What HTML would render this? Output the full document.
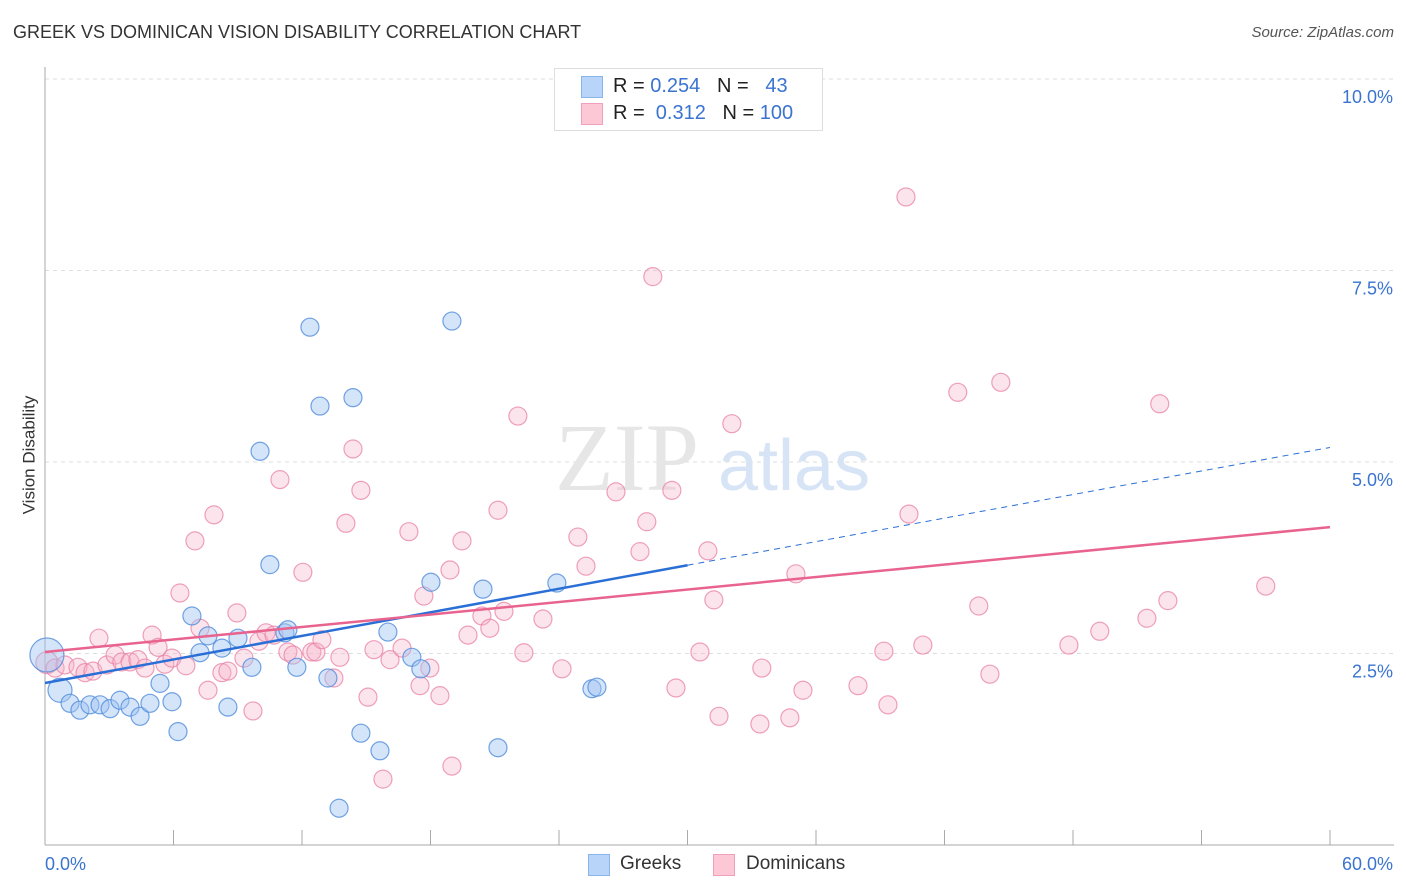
<!DOCTYPE html>
<html><head><meta charset="utf-8"><style>
body{margin:0;background:#fff;font-family:"Liberation Sans",sans-serif;}
#wrap{position:relative;width:1406px;height:892px;overflow:hidden;}
.t{position:absolute;white-space:nowrap;}
</style></head><body>
<div id="wrap">
<div class="t" style="left:13px;top:22px;font-size:18px;color:#333;">GREEK VS DOMINICAN VISION DISABILITY CORRELATION CHART</div>
<div class="t" style="right:12px;top:24px;font-size:15px;color:#555;font-style:italic;">Source: ZipAtlas.com</div>
<div class="t" style="left:-30px;top:445px;font-size:17px;color:#333;transform:rotate(-90deg);">Vision Disability</div>
<svg id="svg" width="1406" height="892" style="position:absolute;left:0;top:0;"></svg>
<div style="position:absolute;left:554px;top:68px;width:267px;height:61px;border:1px solid #ddd;background:#fff;">
 <div style="position:absolute;left:26px;top:7px;width:20px;height:20px;background:#b8d4f8;border:1px solid #8ab4ec;"></div>
 <div class="t" style="left:58px;top:6px;font-size:20px;color:#222;">R = <span style="color:#3a74d0">0.254</span>&nbsp;&nbsp; N = &nbsp;&nbsp;<span style="color:#3a74d0">43</span></div>
 <div style="position:absolute;left:26px;top:34px;width:20px;height:20px;background:#fcc8d6;border:1px solid #f0a0b8;"></div>
 <div class="t" style="left:58px;top:33px;font-size:20px;color:#222;">R = &nbsp;<span style="color:#3a74d0">0.312</span>&nbsp;&nbsp; N = <span style="color:#3a74d0">100</span></div>
</div>
<div style="position:absolute;left:588px;top:854px;">
 <div style="position:absolute;left:0;top:0;width:20px;height:20px;background:#b8d4f8;border:1px solid #8ab4ec;"></div>
 <div class="t" style="left:32px;top:-1px;font-size:19px;color:#333;">Greeks</div></div>
<div style="position:absolute;left:713px;top:854px;">
 <div style="position:absolute;left:0;top:0;width:20px;height:20px;background:#fcc8d6;border:1px solid #f0a0b8;"></div>
 <div class="t" style="left:33px;top:-1px;font-size:19px;color:#333;">Dominicans</div></div>
</div>
<script>
const greekX=[0.09,0.70,1.17,1.63,2.10,2.57,3.04,3.50,3.97,4.44,4.90,5.37,5.93,6.21,6.86,7.24,7.61,8.26,8.54,9.01,9.66,10.04,10.50,11.20,11.34,11.76,12.37,12.84,13.21,13.73,14.38,14.75,15.64,16.01,17.13,17.55,18.02,19.00,20.45,21.15,23.90,25.54,25.77];
const greekY=[2.48,2.02,1.85,1.76,1.83,1.83,1.78,1.89,1.80,1.68,1.85,2.11,1.87,1.48,2.99,2.51,2.73,2.57,1.80,2.70,2.32,5.14,3.66,2.77,2.81,2.32,6.76,5.73,2.18,0.48,5.84,1.46,1.23,2.78,2.45,2.30,3.43,6.84,3.34,1.27,3.42,2.04,2.06];
const domX=[0.09,0.47,0.93,1.54,1.87,2.24,2.52,2.89,3.27,3.59,3.97,4.34,4.67,5.00,5.28,5.60,5.93,6.30,6.58,7.00,7.24,7.61,7.89,8.26,8.54,8.96,9.29,9.71,9.99,10.32,10.69,10.97,11.34,11.58,12.04,12.46,12.65,12.93,13.49,13.77,14.05,14.38,14.75,15.08,15.36,15.78,16.11,16.67,16.99,17.51,17.69,17.97,18.44,18.91,19.00,19.47,19.75,20.40,20.77,21.15,21.43,22.08,22.36,23.25,24.14,24.88,25.26,26.66,27.78,28.10,28.38,29.27,29.46,30.58,30.95,31.23,31.47,32.07,33.38,33.47,34.78,35.06,35.39,37.96,39.17,39.36,40.20,40.34,40.99,42.62,43.60,44.12,44.63,47.81,49.25,51.45,52.05,52.43,57.00];
const domY=[2.38,2.31,2.35,2.32,2.25,2.27,2.70,2.35,2.48,2.39,2.39,2.42,2.31,2.74,2.58,2.36,2.44,3.29,2.34,3.97,2.83,2.02,4.31,2.25,2.27,3.03,2.44,1.75,2.66,2.77,2.74,4.77,2.52,2.48,3.56,2.52,2.52,2.68,2.18,2.45,4.20,5.17,4.63,1.93,2.55,0.86,2.42,2.57,4.09,2.08,3.25,2.31,1.95,3.59,1.03,3.97,2.74,2.99,2.83,4.37,3.05,5.60,2.51,2.95,2.30,4.02,3.64,4.61,3.83,4.22,7.42,4.63,2.05,2.52,3.84,3.20,1.68,5.50,1.58,2.31,1.66,3.54,2.02,2.08,2.53,1.83,8.46,4.32,2.61,5.91,3.12,2.23,6.04,2.61,2.79,2.96,5.76,3.19,3.38];
const greekTrend=[2.115,5.19];
const domTrend=[2.52,4.15];
const yTicks=[2.5,5.0,7.5,10.0];
const yTickLabels=["2.5%","5.0%","7.5%","10.0%"];
const xTicks=[0,6,12,18,24,30,36,42,48,54,60];

const NS="http://www.w3.org/2000/svg";
const svg=document.getElementById('svg');
const X=v=>45+v*1285/60;
const Y=v=>845-v*76.6;
function mk(tag,attrs){const e=document.createElementNS(NS,tag);for(const k in attrs)e.setAttribute(k,attrs[k]);svg.appendChild(e);return e;}

yTicks.forEach((t,i)=>{
 const g=mk('line',{x1:45,x2:1394,y1:Y(t),y2:Y(t),stroke:'#ddd','stroke-dasharray':'4,4'});
 
 
 const tx=mk('text',{x:1393,y:Y(t)+24,'text-anchor':'end','font-size':18,fill:'#3a74d0','font-family':'Liberation Sans, sans-serif'});
 tx.textContent=yTickLabels[i];
 
 
});
const ax=mk('line',{x1:45,x2:45,y1:67,y2:845,stroke:'#aaa'});


const bx=mk('line',{x1:45,x2:1394,y1:845,y2:845,stroke:'#aaa'});


xTicks.forEach(t=>{
 const l=mk('line',{x1:X(t),x2:X(t),y1:830,y2:845,stroke:'#aaa'});
 
 
});
const xl0=mk('text',{x:45,y:870,'font-size':18,fill:'#3a74d0','font-family':'Liberation Sans, sans-serif'});
xl0.textContent='0.0%';


const xl1=mk('text',{x:1393,y:870,'text-anchor':'end','font-size':18,fill:'#3a74d0','font-family':'Liberation Sans, sans-serif'});
xl1.textContent='60.0%';



const wm=mk('text',{x:555,y:490,'font-size':96,fill:'#e6e6e6','font-family':'Liberation Serif, serif'});
wm.textContent='ZIP';


const wm2=mk('text',{x:718,y:490,'font-size':72,fill:'#d6e4f6','font-family':'Liberation Sans, sans-serif'});
wm2.textContent='atlas';



domX.forEach((x,i)=>{
 const c=mk('circle',{cx:X(x),cy:Y(domY[i]),r:i===0?11:9,fill:'rgba(246,178,200,0.35)',stroke:'rgba(232,130,165,0.75)','stroke-width':1.2});
 
 
});
greekX.forEach((x,i)=>{
 const r=i===0?17:(i===1?12:9);
 const c=mk('circle',{cx:X(x),cy:Y(greekY[i]),r:r,fill:'rgba(160,195,242,0.45)',stroke:'rgba(80,140,220,0.8)','stroke-width':1.2});
 
 
});
const gm=greekTrend[0]+(greekTrend[1]-greekTrend[0])*0.5;
const gl=mk('line',{x1:X(0),y1:Y(greekTrend[0]),x2:X(30),y2:Y(gm),stroke:'#2a6fd6','stroke-width':2.5});


const gd=mk('line',{x1:X(30),y1:Y(gm),x2:X(60),y2:Y(greekTrend[1]),stroke:'#2a6fd6','stroke-width':1,'stroke-dasharray':'6,5'});


const dl=mk('line',{x1:X(0),y1:Y(domTrend[0]),x2:X(60),y2:Y(domTrend[1]),stroke:'#e8648f','stroke-width':2.5});


</script>
</body></html>
